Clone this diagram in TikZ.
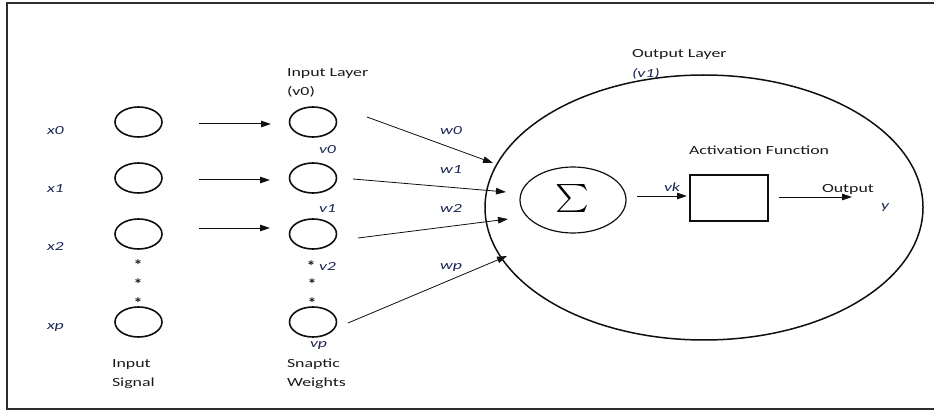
\documentclass[tikz,border=0pt]{standalone}
\usepackage{fontspec}
\setmainfont{Carlito}
\usepackage{graphicx}
\usetikzlibrary{shapes.geometric,arrows.meta}
\definecolor{navy}{RGB}{28,40,84}
\definecolor{txt}{RGB}{25,25,25}
\definecolor{ln}{RGB}{15,15,15}
\newcommand{\wtxt}[1]{\scalebox{1.44}[1]{#1}}
\begin{document}
\begin{tikzpicture}[x=1pt,y=-1pt,
  every node/.style={inner sep=0pt,outer sep=0pt},
  neuron/.style={draw=ln,ellipse,line width=1.6pt,minimum width=47pt,minimum height=30pt},
  lbl/.style={anchor=base west,text=txt,font=\fontsize{12.4}{14}\selectfont},
  ilbl/.style={anchor=base west,text=navy,font=\fontsize{12.4}{14}\selectfont\itshape},
  star/.style={text=txt,font=\fontsize{15}{16}\selectfont\bfseries},
  arr/.style={draw=ln,line width=1pt,-{Triangle[length=10pt,width=6.5pt]}},
  wire/.style={draw=ln,line width=0.8pt,-{Triangle[length=10pt,width=6.5pt]}}]
\useasboundingbox (0,0) rectangle (934,414);
% frame
\draw[line width=2pt,color={rgb,255:red,45;green,45;blue,45}] (934,3) -- (7,3) -- (7,409) -- (934,409);
% input signal column
\node[neuron] (i0) at (138.5,122) {};
\node[neuron] (i1) at (138.5,178) {};
\node[neuron] (i2) at (138.5,234) {};
\node[neuron] (ip) at (138.5,322) {};
% input layer column
\node[neuron] (v0) at (313,122) {};
\node[neuron] (v1) at (313,178) {};
\node[neuron] (v2) at (313,234) {};
\node[neuron] (vp) at (313,322) {};
% labels
\node[ilbl] (lx0) at (47,135) {\wtxt{x0}};
\node[ilbl] (lx1) at (47,193) {\wtxt{x1}};
\node[ilbl] (lx2) at (47,251) {\wtxt{x2}};
\node[ilbl] (lxp) at (47,329) {\wtxt{xp}};
\node[ilbl] (lv0) at (319,154) {\wtxt{v0}};
\node[ilbl] (lv1) at (319,212) {\wtxt{v1}};
\node[ilbl] (lv2) at (319,270) {\wtxt{v2}};
\node[ilbl] (lvp) at (310,347) {\wtxt{vp}};
\node[star] (s1) at (138,265) {\scalebox{1.2}[1]{*}};
\node[star] (s2) at (138,284) {\scalebox{1.2}[1]{*}};
\node[star] (s3) at (138,303) {\scalebox{1.2}[1]{*}};
\node[star] (t1) at (311,266) {\scalebox{1.2}[1]{*}};
\node[star] (t2) at (312,284) {\scalebox{1.2}[1]{*}};
\node[star] (t3) at (312,303) {\scalebox{1.2}[1]{*}};
\node[lbl] (il) at (287,77) {\wtxt{Input Layer}};
\node[lbl] (ilv) at (287,96) {\wtxt{(v0)}};
\node[lbl] (is1) at (112,367) {\wtxt{Input}};
\node[lbl] (is2) at (112,386) {\wtxt{Signal}};
\node[lbl] (sw1) at (287,367) {\wtxt{Snaptic}};
\node[lbl] (sw2) at (287,386) {\wtxt{Weights}};
\node[ilbl] (lw0) at (440,135) {\wtxt{w0}};
\node[ilbl] (lw1) at (440,174) {\wtxt{w1}};
\node[ilbl] (lw2) at (440,212) {\wtxt{w2}};
\node[ilbl] (lwp) at (440,269) {\wtxt{wp}};
% output layer
\node[draw=ln,ellipse,line width=1.5pt,minimum width=438pt,minimum height=265pt] (out) at (704,207.5) {};
\node[lbl] (ol) at (632,58) {\wtxt{Output Layer}};
\node[ilbl] (olv) at (632,78) {\wtxt{(v1)}};
\node[draw=ln,ellipse,line width=1.2pt,minimum width=106pt,minimum height=66pt] (sig) at (573,200) {};
\node (sigma) at (572,199) {\scalebox{3.2}[2.8]{$\textstyle\sum$}};
\node[draw=ln,rectangle,line width=1.5pt,minimum width=78pt,minimum height=46pt] (act) at (729,198) {};
\node[lbl] (af) at (689,155) {\wtxt{Activation Function}};
\node[ilbl] (lvk) at (664,192) {\wtxt{vk}};
\node[lbl] (lo) at (822,193) {\wtxt{Output}};
\node[ilbl] (ly) at (881,210) {\wtxt{y}};
% arrows signal -> input layer
\coordinate (a0s) at (199,124); \coordinate (a0e) at (271,124);
\coordinate (a1s) at (199,180); \coordinate (a1e) at (270,180);
\coordinate (a2s) at (199,228); \coordinate (a2e) at (270,228);
\draw[arr] (a0s) -- (a0e);
\draw[arr] (a1s) -- (a1e);
\draw[arr] (a2s) -- (a2e);
% weights -> output layer
\coordinate (w0s) at (367,117); \coordinate (w0e) at (493,163);
\coordinate (w1s) at (353,179); \coordinate (w1e) at (506,192);
\coordinate (w2s) at (358,238); \coordinate (w2e) at (508,219);
\coordinate (wps) at (348,323); \coordinate (wpe) at (507,256);
\draw[wire] (w0s) -- (w0e);
\draw[wire] (w1s) -- (w1e);
\draw[wire] (w2s) -- (w2e);
\draw[wire] (wps) -- (wpe);
% inside output layer
\coordinate (vks) at (637,196); \coordinate (vke) at (687,196);
\coordinate (ys) at (779,197); \coordinate (ye) at (852,197);
\draw[wire] (vks) -- (vke);
\draw[wire] (ys) -- (ye);
\end{tikzpicture}
\end{document}
